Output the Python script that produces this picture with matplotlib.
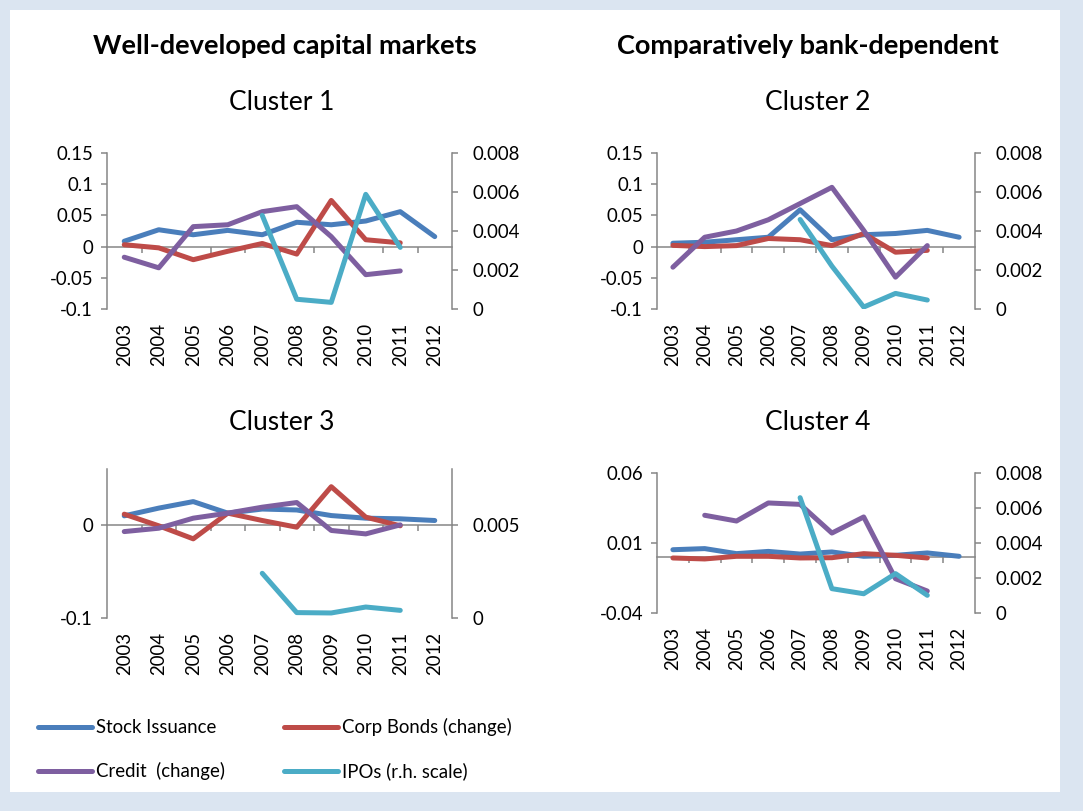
import numpy as np
import matplotlib
matplotlib.use("Agg")
import matplotlib.pyplot as plt
from matplotlib.patches import Rectangle

nan = np.nan
years = ["2003", "2004", "2005", "2006", "2007", "2008", "2009", "2010", "2011", "2012"]
series_names = ["Stock Issuance", "Corp Bonds (change)", "Credit  (change)", "IPOs (r.h. scale)"]

# Cluster 1
c1_stock = [0.0086, 0.027, 0.019, 0.026, 0.019, 0.039, 0.035, 0.041, 0.056, 0.016]
c1_bonds = [0.003, -0.002, -0.021, -0.0075, 0.005, -0.012, 0.074, 0.011, 0.006, nan]
c1_credit = [-0.017, -0.034, 0.032, 0.035, 0.056, 0.064, 0.016, -0.045, -0.039, nan]
c1_ipos = [nan, nan, nan, nan, 0.0048, 0.0005, 0.00034, 0.00588, 0.00316, nan]

# Cluster 2
c2_stock = [0.0054, 0.007, 0.011, 0.015, 0.059, 0.011, 0.019, 0.021, 0.026, 0.015]
c2_bonds = [0.002, 0.0, 0.0016, 0.013, 0.011, 0.0016, 0.021, -0.009, -0.006, nan]
c2_credit = [-0.033, 0.015, 0.025, 0.043, 0.069, 0.095, 0.026, -0.049, 0.0016, nan]
c2_ipos = [nan, nan, nan, nan, 0.00459, 0.0022, 0.0001, 0.0008, 0.00046, nan]

# Cluster 3
c3_stock = [0.0097, 0.018, 0.025, 0.0126, 0.017, 0.016, 0.010, 0.0072, 0.0065, 0.0047]
c3_bonds = [0.0115, -0.001, -0.015, 0.0126, 0.0047, -0.0025, 0.041, 0.0083, -0.001, nan]
c3_credit = [-0.0072, -0.0036, 0.0072, 0.0126, 0.019, 0.024, -0.006, -0.0097, 0.0, nan]
c3_ipos = [nan, nan, nan, nan, 0.0024, 0.00029, 0.00027, 0.00059, 0.00041, nan]

# Cluster 4
c4_stock = [0.0052, 0.006, 0.0024, 0.004, 0.0021, 0.0036, 0.0005, 0.0012, 0.0029, 0.0005]
c4_bonds = [-0.0007, -0.0014, 0.0005, 0.0005, -0.0007, -0.0005, 0.0024, 0.0012, -0.0007, nan]
c4_credit = [nan, 0.0298, 0.0257, 0.0386, 0.0376, 0.0171, 0.0286, -0.0155, -0.0243, nan]
c4_ipos = [nan, nan, nan, nan, 0.00659, 0.00139, 0.0011, 0.00225, 0.00101, nan]

colors = ["#4A7EBB", "#BE4B48", "#7E5FA0", "#4BACC6"]
gray = "#868686"

plt.rcParams['font.family'] = ['Lato', 'DejaVu Sans']

W, H = 1083, 811
fig = plt.figure(figsize=(W / 100, H / 100), dpi=100)
fig.patch.set_facecolor("#DBE5F1")
fig.patches.append(Rectangle((10 / W, 1 - 792 / H), 1050 / W, 782 / H,
                             transform=fig.transFigure, facecolor="white",
                             edgecolor="none", zorder=-5))


def px_rect(x0, y0, x1, y1):
    return [x0 / W, 1 - y1 / H, (x1 - x0) / W, (y1 - y0) / H]


panels = [
    dict(rect=px_rect(107, 153, 452, 309), data=(c1_stock, c1_bonds, c1_credit, c1_ipos),
         ylim=(-0.1, 0.15), yticks=[-0.1, -0.05, 0, 0.05, 0.1, 0.15],
         ylabels=["-0.1", "-0.05", "0", "0.05", "0.1", "0.15"],
         y2lim=(0, 0.008), y2ticks=[0, 0.002, 0.004, 0.006, 0.008],
         y2labels=["0", "0.002", "0.004", "0.006", "0.008"]),
    dict(rect=px_rect(657, 153, 975, 309), data=(c2_stock, c2_bonds, c2_credit, c2_ipos),
         ylim=(-0.1, 0.15), yticks=[-0.1, -0.05, 0, 0.05, 0.1, 0.15],
         ylabels=["-0.1", "-0.05", "0", "0.05", "0.1", "0.15"],
         y2lim=(0, 0.008), y2ticks=[0, 0.002, 0.004, 0.006, 0.008],
         y2labels=["0", "0.002", "0.004", "0.006", "0.008"]),
    dict(rect=px_rect(107, 469, 452, 618), data=(c3_stock, c3_bonds, c3_credit, c3_ipos),
         ylim=(-0.1, 0.06), yticks=[-0.1, 0], ylabels=["-0.1", "0"],
         y2lim=(0, 0.008), y2ticks=[0, 0.005], y2labels=["0", "0.005"]),
    dict(rect=px_rect(657, 473, 975, 613), data=(c4_stock, c4_bonds, c4_credit, c4_ipos),
         ylim=(-0.04, 0.06), yticks=[-0.04, 0.01, 0.06], ylabels=["-0.04", "0.01", "0.06"],
         y2lim=(0, 0.008), y2ticks=[0, 0.002, 0.004, 0.006, 0.008],
         y2labels=["0", "0.002", "0.004", "0.006", "0.008"]),
]

xpos = np.arange(len(years)) + 0.5
fs = 13.4
lw = 3.6
handles = None

for p in panels:
    ax = fig.add_axes(p["rect"])
    ax.patch.set_alpha(0)
    ax.set_xlim(0, len(years))
    ax.set_ylim(*p["ylim"])
    lines = []
    for vals, c in zip(p["data"][:3], colors[:3]):
        ln, = ax.plot(xpos, vals, color=c, lw=lw, solid_capstyle="round",
                      solid_joinstyle="round", zorder=3)
        lines.append(ln)
    ax.set_yticks(p["yticks"], labels=p["ylabels"])
    ax.tick_params(axis="y", direction="out", length=4.5, width=1.1, color=gray,
                   labelsize=fs, pad=5.5)
    for s in ["top", "right"]:
        ax.spines[s].set_visible(False)
    ax.spines["left"].set_color(gray)
    ax.spines["left"].set_linewidth(1.1)
    ax.spines["bottom"].set_position(("data", 0))
    ax.spines["bottom"].set_color(gray)
    ax.spines["bottom"].set_linewidth(1.1)
    ax.spines["bottom"].set_zorder(1)
    ax.set_xticks([])
    ax.set_xticks(np.arange(1, len(years)), minor=True)
    ax.tick_params(axis="x", which="minor", direction="out", length=4.5, width=1.1,
                   color=gray, labelbottom=False)

    sec = ax.secondary_xaxis(0.0)
    sec.set_xticks(xpos, labels=years, rotation=90)
    sec.tick_params(length=0, pad=10, labelsize=fs)
    sec.spines["bottom"].set_visible(False)

    ax2 = ax.twinx()
    ax2.set_ylim(*p["y2lim"])
    ln, = ax2.plot(xpos, p["data"][3], color=colors[3], lw=lw, solid_capstyle="round",
                   solid_joinstyle="round", zorder=3)
    lines.append(ln)
    ax2.set_yticks(p["y2ticks"], labels=p["y2labels"])
    ax2.tick_params(axis="y", direction="out", length=4.5, width=1.1, color=gray,
                    labelsize=fs, pad=10)
    for s in ["top", "bottom", "left"]:
        ax2.spines[s].set_visible(False)
    ax2.spines["right"].set_color(gray)
    ax2.spines["right"].set_linewidth(1.1)
    if handles is None:
        handles = lines

fig.text(285 / W, 1 - 46 / H, "Well-developed capital markets", ha="center", va="center",
         fontsize=19.5, fontweight="bold")
fig.text(808 / W, 1 - 46 / H, "Comparatively bank-dependent", ha="center", va="center",
         fontsize=19.5, fontweight="bold")
for label, (x, y) in zip(["Cluster 1", "Cluster 2", "Cluster 3", "Cluster 4"],
                         [(282, 102), (818, 102), (282, 422), (818, 422)]):
    fig.text(x / W, 1 - y / H, label, ha="center", va="center", fontsize=19)

order = [0, 2, 1, 3]
fig.legend([handles[i] for i in order], [series_names[i] for i in order],
           loc="upper left", bbox_to_anchor=(38 / W, 1 - 718 / H), ncol=2,
           frameon=False, fontsize=fs, handlelength=2.9, handletextpad=0.2,
           columnspacing=3.2, labelspacing=1.4, borderpad=0, borderaxespad=0)

fig.savefig("out.png", dpi=100, facecolor=fig.get_facecolor())
